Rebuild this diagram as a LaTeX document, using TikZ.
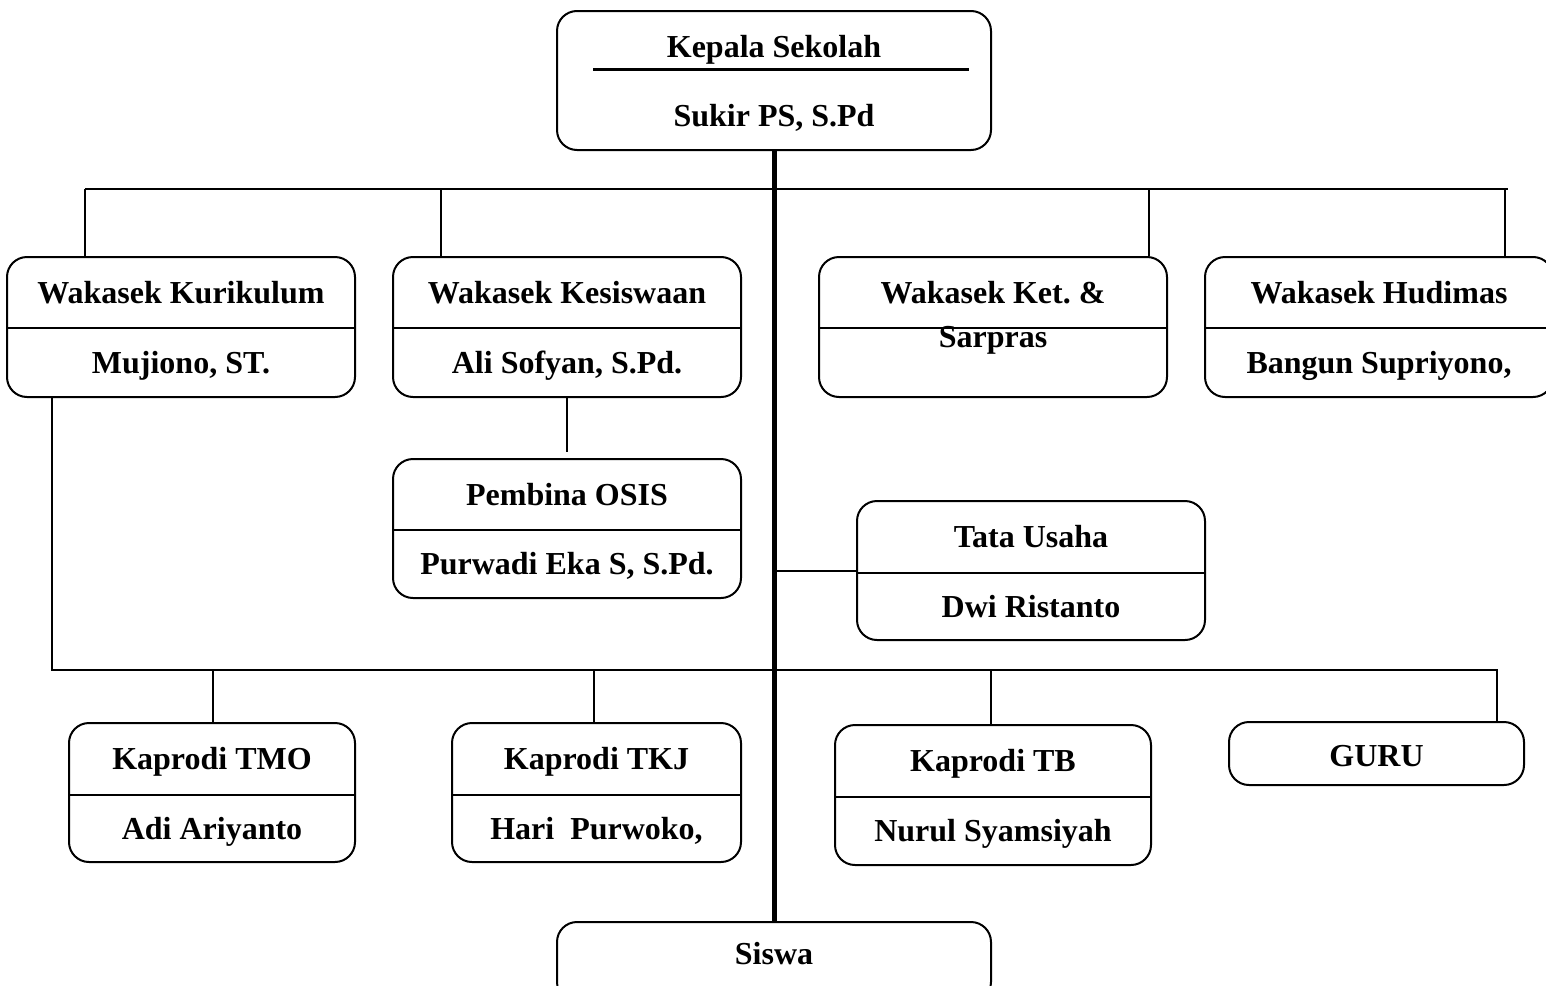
\documentclass[tikz,border=0pt]{standalone}
\usepackage{fontspec}
\setmainfont{Liberation Serif}
\frenchspacing
\begin{document}
\begin{tikzpicture}[x=1pt,y=-1pt,
  box/.style={draw, line width=2pt, rounded corners=20pt, inner sep=0pt},
  lbl/.style={anchor=base, inner sep=0pt, font=\fontsize{32}{38}\selectfont\bfseries},
  link/.style={line width=2pt},
  spine/.style={line width=5pt},
  rule/.style={line width=3pt}]
\useasboundingbox (0,0) rectangle (1546,985);
\begin{scope}
\clip (0,0) rectangle (1546,985);

% boxes
\node[box, minimum width=434pt, minimum height=139pt] (kep)   at (774,80.5) {};
\node[box, minimum width=348pt, minimum height=140pt] (kur)   at (181,327) {};
\node[box, minimum width=348pt, minimum height=140pt] (kes)   at (567,327) {};
\node[box, minimum width=348pt, minimum height=140pt] (ket)   at (993,327) {};
\node[box, minimum width=348pt, minimum height=140pt] (hud)   at (1379,327) {};
\node[box, minimum width=348pt, minimum height=139pt] (osis)  at (567,528.5) {};
\node[box, minimum width=348pt, minimum height=139pt] (tu)    at (1031,570.5) {};
\node[box, minimum width=286pt, minimum height=139pt] (tmo)   at (212,792.5) {};
\node[box, minimum width=289pt, minimum height=139pt] (tkj)   at (596.5,792.5) {};
\node[box, minimum width=316pt, minimum height=140pt] (tb)    at (993,795) {};
\node[box, minimum width=295pt, minimum height=63pt]  (guru)  at (1376.5,753.5) {};
\node[box, minimum width=434pt, minimum height=80pt]  (siswa) at (774,962) {};

% dividers inside the boxes
\coordinate (kl) at (593,69);
\coordinate (kr) at (969,69);
\draw[rule] (kl) -- (kr);
\draw[link] (kur.west |- 0,328) -- (kur.east |- 0,328);
\draw[link] (kes.west |- 0,328) -- (kes.east |- 0,328);
\draw[link] (ket.west |- 0,328) -- (ket.east |- 0,328);
\draw[link] (hud.west |- 0,328) -- (hud.east |- 0,328);
\draw[link] (osis.west |- 0,530) -- (osis.east |- 0,530);
\draw[link] (tu.west |- 0,573) -- (tu.east |- 0,573);
\draw[link] (tmo.west |- 0,795) -- (tmo.east |- 0,795);
\draw[link] (tkj.west |- 0,795) -- (tkj.east |- 0,795);
\draw[link] (tb.west |- 0,797) -- (tb.east |- 0,797);

% labels
\node[lbl] (kepT)  at (774,57)  {Kepala Sekolah};
\node[lbl] (kepN)  at (774,126) {Sukir PS, S.Pd};
\node[lbl] (kurT)  at (181,303) {Wakasek Kurikulum};
\node[lbl] (kurN)  at (181,373) {Mujiono, ST.};
\node[lbl] (kesT)  at (567,303) {Wakasek Kesiswaan};
\node[lbl] (kesN)  at (567,373) {Ali Sofyan, S.Pd.};
\node[lbl] (ketT)  at (993,303) {Wakasek Ket. \&};
\node[lbl] (ketN)  at (993,347) {Sarpras};
\node[lbl] (hudT)  at (1379,303) {Wakasek Hudimas};
\node[lbl] (hudN)  at (1379,373) {Bangun Supriyono,};
\node[lbl] (osisT) at (567,505) {Pembina OSIS};
\node[lbl] (osisN) at (567,574) {Purwadi Eka S, S.Pd.};
\node[lbl] (tuT)   at (1031,547) {Tata Usaha};
\node[lbl] (tuN)   at (1031,617) {Dwi Ristanto};
\node[lbl] (tmoT)  at (212,769) {Kaprodi TMO};
\node[lbl] (tmoN)  at (212,839) {Adi Ariyanto};
\node[lbl] (tkjT)  at (596.5,769) {Kaprodi TKJ};
\node[lbl] (tkjN)  at (596.5,839) {Hari\ \ Purwoko,};
\node[lbl] (tbT)   at (993,771) {Kaprodi TB};
\node[lbl] (tbN)   at (993,841) {Nurul Syamsiyah};
\node[lbl] (guruT) at (1376.5,766) {GURU};
\node[lbl] (siswaT) at (774,964) {Siswa};

% main line of command
\draw[spine] (kep.south) -- (siswa.north);

% upper branch
\coordinate (t1) at (85,189);
\coordinate (t2) at (441,189);
\coordinate (t3) at (1149,189);
\coordinate (t4) at (1505,189);
\coordinate (tr) at (1508,189);
\draw[link] (t1) -- (tr);
\draw[link] (t1) -- (t1 |- kur.north);
\draw[link] (t2) -- (t2 |- kes.north);
\draw[link] (t3) -- (t3 |- ket.north);
\draw[link] (t4) -- (t4 |- hud.north);

% Kesiswaan to OSIS
\draw[link] (kes.south) -- ([yshift=6pt]osis.north);

% staff branch
\coordinate (sp) at (774,570.5);
\draw[link] (sp) -- (tu.west);

% lower branch
\coordinate (bl) at (52,670);
\coordinate (br) at (1497,670);
\coordinate (b1) at (213,670);
\coordinate (b2) at (594,670);
\coordinate (b3) at (991,670);
\draw[link] (bl |- kur.south) -- (bl) -- (br) -- (br |- guru.north);
\draw[link] (b1) -- (b1 |- tmo.north);
\draw[link] (b2) -- (b2 |- tkj.north);
\draw[link] (b3) -- (b3 |- tb.north);
\end{scope}
\end{tikzpicture}
\end{document}
